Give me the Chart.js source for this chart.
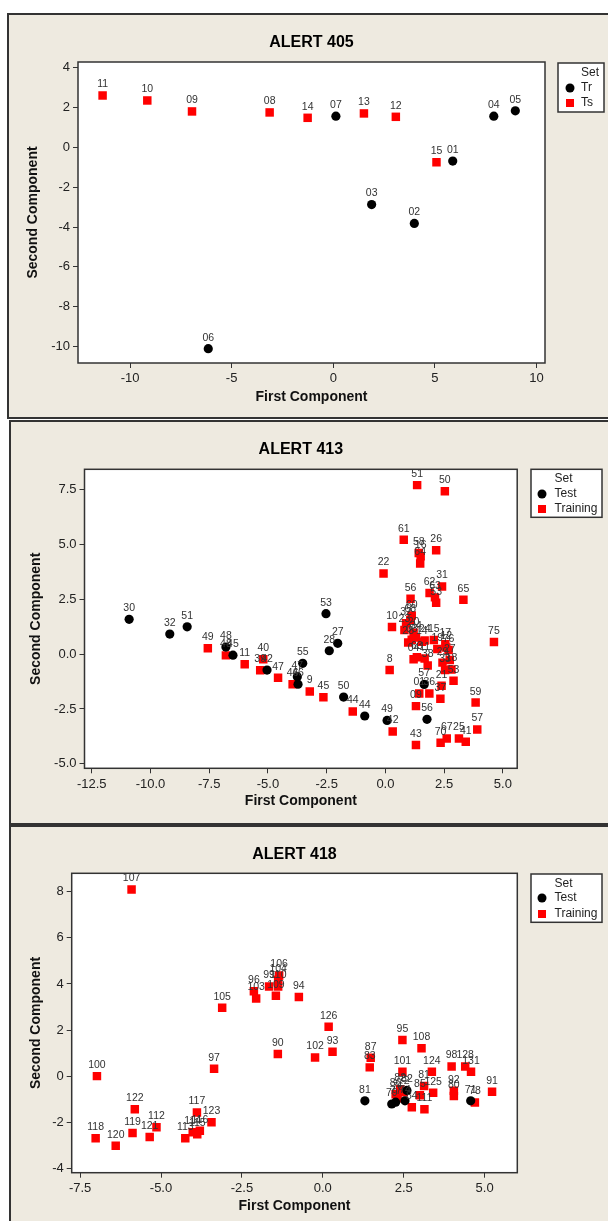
<!DOCTYPE html>
<html>
<head>
<meta charset="utf-8">
<script src="https://cdn.jsdelivr.net/npm/chart.js@4/dist/chart.umd.min.js"></script>
<style>
  body { margin: 0; background: #fff; width: 608px; height: 1221px; overflow: hidden; position: relative; }
  .panel { position: absolute; width: 640px; background: #eeeae0; border: 2px solid #333; box-sizing: border-box; }
  canvas { position: absolute; left: 0; }
</style>
</head>
<body>
<div class="panel" style="left:7px;top:13px;height:406px"></div>
<div class="panel" style="left:9px;top:420px;height:405px"></div>
<div class="panel" style="left:9px;top:825px;height:400px"></div>
<canvas id="c405" width="608" height="406" style="top:13px;width:608px;height:406px"></canvas>
<canvas id="c413" width="608" height="405" style="top:420px;width:608px;height:405px"></canvas>
<canvas id="c418" width="608" height="396" style="top:825px;width:608px;height:396px"></canvas>
<script>
// ---- ALERT 405 ----
const a405TrIds = ['07', '04', '05', '01', '03', '02', '06'];
const a405TrX = [0.13, 7.9, 8.96, 5.88, 1.89, 3.99, -6.15];
const a405TrY = [1.56, 1.56, 1.83, -0.69, -2.87, -3.82, -10.1];
const a405TsIds = ['11', '10', '09', '08', '14', '13', '12', '15'];
const a405TsX = [-11.35, -9.15, -6.95, -3.13, -1.26, 1.51, 3.08, 5.08];
const a405TsY = [2.6, 2.35, 1.8, 1.75, 1.48, 1.7, 1.53, -0.75];
const a405TicksX = [-10, -5, 0, 5, 10];
const a405TicksY = [-10, -8, -6, -4, -2, 0, 2, 4];

// ---- ALERT 413 ----
const a413TestIds = ['30', '32', '51', '48', '45', '42', '55', '47', '46', '53', '28', '27', '50', '44', '49', '57', '56'];
const a413TestX = [-10.91, -9.18, -8.44, -6.79, -6.49, -5.04, -3.52, -3.75, -3.72, -2.53, -2.39, -2.03, -1.78, -0.88, 0.07, 1.65, 1.77];
const a413TestY = [1.58, 0.91, 1.24, 0.32, -0.05, -0.73, -0.42, -1.03, -1.37, 1.84, 0.15, 0.49, -1.96, -2.82, -3.02, -1.38, -2.97];
const a413TrainIds = ['49', '48', '11', '40', '39', '47', '46', '9', '45', '44', '42', '8', '10', '22', '61', '51', '50', '26', '58', '16',
  '64', '56', '62', '31', '63', '53', '65', '60', '68', '32', '23', '20', '28', '03', '34', '14', '24', '15', '17', '19',
  '12', '76', '04', '63', '11', '38', '29', '27', '33', '18', '53', '21', '36', '01', '37', '09', '59', '57', '43', '70',
  '67', '25', '41', '75'];
const a413TrainX = [-7.56, -6.79, -5.99, -5.2, -5.33, -4.57, -3.95, -3.22, -2.64, -1.39, 0.31, 0.18, 0.28, -0.08, 0.78, 1.35, 2.53, 2.16, 1.42, 1.5,
  1.48, 1.07, 1.88, 2.41, 2.11, 2.16, 3.32, 1.12, 1.06, 0.88, 0.81, 1.2, 0.97, 1.12, 1.3, 1.55, 1.67, 2.06, 2.55, 2.21,
  2.59, 2.69, 1.2, 1.34, 1.67, 1.8, 2.43, 2.74, 2.54, 2.81, 2.9, 2.39, 1.87, 1.44, 2.34, 1.3, 3.84, 3.91, 1.3, 2.35,
  2.61, 3.13, 3.42, 4.62];
const a413TrainY = [0.26, -0.06, -0.46, -0.24, -0.74, -1.08, -1.37, -1.7, -1.97, -2.61, -3.52, -0.73, 1.23, 3.67, 5.2, 7.69, 7.41, 4.73, 4.6, 4.45,
  4.12, 2.52, 2.78, 3.08, 2.58, 2.34, 2.47, 1.75, 1.55, 1.4, 1.09, 0.97, 0.53, 0.65, 0.75, 0.56, 0.62, 0.64, 0.45, 0.23,
  0.3, 0.18, -0.24, -0.15, -0.2, -0.52, -0.39, -0.27, -0.73, -0.7, -1.21, -1.44, -1.79, -1.79, -2.03, -2.37, -2.21, -3.43, -4.14, -4.04,
  -3.84, -3.84, -3.99, 0.55];
const a413TicksX = [-12.5, -10, -7.5, -5, -2.5, 0, 2.5, 5];
const a413TicksY = [-5, -2.5, 0, 2.5, 5, 7.5];

// ---- ALERT 418 ----
const a418TestIds = ['81', '79', '77', '74', '82', '71'];
const a418TestX = [1.3, 2.13, 2.25, 2.54, 2.6, 4.57];
const a418TestY = [-1.07, -1.21, -1.13, -1.07, -0.62, -1.07];
const a418TrainIds = ['107', '100', '118', '120', '122', '119', '121', '112', '113', '114', '115', '116', '117', '123', '97', '105', '96', '103', '99', '104',
  '106', '109', '110', '94', '126', '90', '102', '93', '87', '83', '95', '108', '101', '124', '98', '128', '131', '92', '80', '91',
  '78', '81', '85', '125', '111', '84', '86', '82', '76', '72'];
const a418TrainX = [-5.91, -6.98, -7.02, -6.4, -5.81, -5.88, -5.35, -5.14, -4.25, -4.02, -3.88, -3.8, -3.89, -3.44, -3.36, -3.11, -2.13, -2.06, -1.66, -1.38,
  -1.35, -1.45, -1.38, -0.74, 0.18, -1.39, -0.24, 0.3, 1.48, 1.45, 2.46, 3.05, 2.46, 3.37, 3.98, 4.4, 4.58, 4.05, 4.05, 5.23,
  4.7, 3.13, 3.0, 3.41, 3.14, 2.75, 2.25, 2.39, 2.31, 2.5];
const a418TrainY = [8.1, 0.0, -2.7, -3.02, -1.44, -2.47, -2.64, -2.22, -2.7, -2.44, -2.52, -2.37, -1.58, -2.0, 0.32, 2.97, 3.68, 3.37, 3.89, 4.18,
  4.37, 3.49, 3.89, 3.43, 2.14, 0.96, 0.81, 1.06, 0.8, 0.38, 1.57, 1.21, 0.19, 0.19, 0.42, 0.42, 0.19, -0.63, -0.86, -0.68,
  -1.14, -0.43, -0.83, -0.72, -1.44, -1.35, -0.79, -0.57, -0.96, -0.7];
const a418TicksX = [-7.5, -5, -2.5, 0, 2.5, 5];
const a418TicksY = [-4, -2, 0, 2, 4, 6, 8];

const legendTitle = 'Set';
const xTitle = 'First Component';
const yTitle = 'Second Component';

Chart.defaults.font.family = '"Liberation Sans", Arial, sans-serif';

// white plot area with dark frame
const plotFrame = {
  id: 'plotFrame',
  beforeDraw(chart) {
    const a = chart.chartArea, ctx = chart.ctx;
    ctx.save();
    ctx.fillStyle = '#fff';
    ctx.fillRect(a.left, a.top, a.width, a.height);
    ctx.restore();
  },
  afterDraw(chart) {
    const a = chart.chartArea, ctx = chart.ctx;
    ctx.save();
    ctx.strokeStyle = '#333';
    ctx.lineWidth = 1.5;
    ctx.strokeRect(a.left, a.top, a.width, a.height);
    ctx.restore();
  }
};

// numbers above the points
const pointIds = {
  id: 'pointIds',
  afterDatasetsDraw(chart) {
    const ctx = chart.ctx;
    ctx.save();
    ctx.font = '10.5px "Liberation Sans Narrow", "Liberation Sans", sans-serif';
    ctx.fillStyle = '#333';
    ctx.textAlign = 'center';
    ctx.textBaseline = 'middle';
    chart.data.datasets.forEach((ds, i) => {
      chart.getDatasetMeta(i).data.forEach((pt, j) => {
        ctx.fillText(ds.ids[j], pt.x, pt.y - 11);
      });
    });
    ctx.restore();
  }
};

// boxed legend on the right
const setLegend = {
  id: 'setLegend',
  afterDraw(chart, args, o) {
    const ctx = chart.ctx;
    ctx.save();
    ctx.fillStyle = '#fff';
    ctx.fillRect(o.left, o.top, o.width, o.height);
    ctx.strokeStyle = '#333';
    ctx.lineWidth = 1.5;
    ctx.strokeRect(o.left, o.top, o.width, o.height);
    ctx.font = '12px "Liberation Sans Narrow", "Liberation Sans", sans-serif';
    ctx.textAlign = 'left';
    ctx.textBaseline = 'middle';
    ctx.fillStyle = '#222';
    ctx.fillText(legendTitle, o.textX, o.rows[0]);
    chart.data.datasets.forEach((ds, i) => {
      const y = o.rows[i + 1];
      ctx.fillStyle = ds.backgroundColor;
      if (ds.pointStyle === 'rect') {
        ctx.fillRect(o.markX - 4, y - 4, 8, 8);
      } else {
        ctx.beginPath();
        ctx.arc(o.markX, y, 4.5, 0, Math.PI * 2);
        ctx.fill();
      }
      ctx.fillStyle = '#222';
      ctx.fillText(ds.label, o.textX, y);
    });
    ctx.restore();
  }
};

Chart.register(plotFrame, pointIds, setLegend);

function serie(label, ids, xs, ys, style) {
  const round = style === 'circle';
  return {
    label: label,
    ids: ids,
    data: xs.map((x, i) => ({ x: x, y: ys[i] })),
    pointStyle: style,
    pointRadius: round ? 4.6 : 6,
    pointHoverRadius: round ? 4.6 : 6,
    backgroundColor: round ? '#000' : '#f00',
    borderColor: round ? '#000' : '#f00',
    borderWidth: 0
  };
}

function makePanel(id, titleText, sets, xr, yr, xt, yt, decX, decY, g) {
  const fmtX = v => decX ? Number(v).toFixed(1) : String(v);
  const fmtY = v => decY ? Number(v).toFixed(1) : String(v);
  new Chart(document.getElementById(id), {
    type: 'scatter',
    data: { datasets: sets },
    options: {
      responsive: false,
      animation: false,
      events: [],
      layout: { padding: { left: 0, right: g.right, top: 0, bottom: 0 } },
      plugins: {
        legend: { display: false },
        tooltip: { enabled: false },
        title: {
          display: true,
          text: titleText,
          fullSize: false,
          color: '#000',
          font: { size: 16, weight: 'bold', lineHeight: 1.2 },
          padding: { top: g.titleTop, bottom: g.titleBottom }
        },
        setLegend: g.legend
      },
      scales: {
        x: {
          type: 'linear',
          min: xr[0],
          max: xr[1],
          afterBuildTicks: s => { s.ticks = xt.map(v => ({ value: v })); },
          afterFit: s => { s.height = g.xh; },
          border: { display: false },
          grid: { drawOnChartArea: false, drawTicks: true, tickLength: 5, color: '#333', lineWidth: 1 },
          ticks: { autoSkip: false, maxRotation: 0, padding: 3, color: '#222', font: { size: 13 }, callback: fmtX },
          title: { display: true, text: xTitle, color: '#111', font: { size: 14, weight: 'bold', lineHeight: 1.2 }, padding: { top: 0, bottom: g.xtPad } }
        },
        y: {
          type: 'linear',
          min: yr[0],
          max: yr[1],
          afterBuildTicks: s => { s.ticks = yt.map(v => ({ value: v })); },
          afterFit: s => { s.width = g.yw; },
          border: { display: false },
          grid: { drawOnChartArea: false, drawTicks: true, tickLength: 5, color: '#333', lineWidth: 1 },
          ticks: { autoSkip: false, padding: 3, color: '#222', font: { size: 13 }, callback: fmtY },
          title: { display: true, text: yTitle, color: '#111', font: { size: 14, weight: 'bold', lineHeight: 1.2 }, padding: { top: g.ytPad, bottom: 0 } }
        }
      }
    }
  });
}

makePanel('c405', 'ALERT 405',
  [serie('Tr', a405TrIds, a405TrX, a405TrY, 'circle'), serie('Ts', a405TsIds, a405TsX, a405TsY, 'rect')],
  [-12.56, 10.42], [-10.82, 4.28], a405TicksX, a405TicksY, false, false,
  { right: 63, yw: 78, xh: 56, titleTop: 20.4, titleBottom: 9.4, xtPad: 13.6, ytPad: 24.6,
    legend: { left: 558, top: 50, width: 46, height: 49, markX: 570, textX: 581, rows: [60, 75, 90] } });

makePanel('c413', 'ALERT 413',
  [serie('Test', a413TestIds, a413TestX, a413TestY, 'circle'), serie('Training', a413TrainIds, a413TrainX, a413TrainY, 'rect')],
  [-12.81, 5.61], [-5.2, 8.41], a413TicksX, a413TicksY, true, true,
  { right: 90.8, yw: 84.5, xh: 56.7, titleTop: 19.7, titleBottom: 10.4, xtPad: 15.6, ytPad: 27.3,
    legend: { left: 531, top: 49.3, width: 71, height: 48, markX: 542, textX: 554.5, rows: [59, 74, 89] } });

makePanel('c418', 'ALERT 418',
  [serie('Test', a418TestIds, a418TestX, a418TestY, 'circle'), serie('Training', a418TrainIds, a418TrainX, a418TrainY, 'rect')],
  [-7.76, 6.01], [-4.19, 8.8], a418TicksX, a418TicksY, true, false,
  { right: 90.7, yw: 71.7, xh: 48.3, titleTop: 19.7, titleBottom: 9.4, xtPad: 6.9, ytPad: 27.3,
    legend: { left: 531, top: 49, width: 71, height: 48.3, markX: 542, textX: 554.5, rows: [58.3, 73, 89] } });
</script>
</body>
</html>
